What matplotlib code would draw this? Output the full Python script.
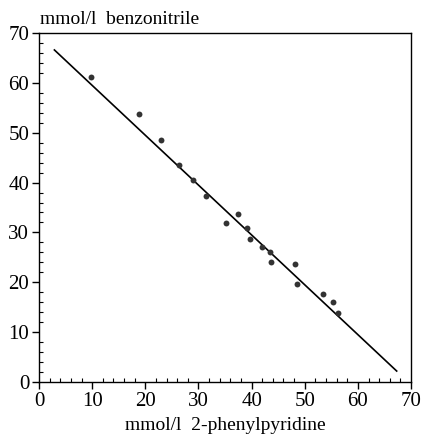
import matplotlib
matplotlib.use("Agg")
import matplotlib.pyplot as plt
from matplotlib.ticker import MultipleLocator

# measured points (x: 2-phenylpyridine, y: benzonitrile), mmol/l
phenylpyridine = [9.7, 18.9, 22.9, 26.4, 28.9, 31.5, 35.2, 37.4, 39.1, 39.7,
                  41.9, 43.5, 43.7, 48.1, 48.6, 53.5, 55.3, 56.2]
benzonitrile = [61.1, 53.7, 48.5, 43.5, 40.5, 37.4, 31.9, 33.7, 30.8, 28.7,
                27.0, 26.1, 24.1, 23.7, 19.7, 17.6, 16.1, 13.8]

# fitted line end points
fit_x = [2.9, 67.3]
fit_y = [66.6, 2.2]

plt.rcParams["font.family"] = ["Liberation Serif", "DejaVu Serif"]

fig = plt.figure(figsize=(4.22, 4.40), dpi=100)
ax = fig.add_axes([0.0924, 0.1318, 0.8816, 0.7932])

ax.plot(fit_x, fit_y, color="black", linewidth=1.2)
ax.scatter(phenylpyridine, benzonitrile, s=18, color="#333333", zorder=3, linewidths=0)

ax.set_xlim(0, 70)
ax.set_ylim(0, 70)
ax.xaxis.set_major_locator(MultipleLocator(10))
ax.xaxis.set_minor_locator(MultipleLocator(2))
ax.yaxis.set_major_locator(MultipleLocator(10))
ax.yaxis.set_minor_locator(MultipleLocator(2))
ax.tick_params(which="both", top=False, right=False, labelsize=15)
ax.tick_params(which="major", direction="out", length=5, width=1, pad=2)
ax.tick_params(which="minor", direction="in", length=3, width=0.8)
for s in ax.spines.values():
    s.set_linewidth(1)

fig.text(0.095, 0.937, "mmol/l  benzonitrile", fontsize=14, ha="left", va="bottom")
fig.text(0.535, 0.014, "mmol/l  2-phenylpyridine", fontsize=14, ha="center", va="bottom")

fig.savefig("out.png", dpi=100)
